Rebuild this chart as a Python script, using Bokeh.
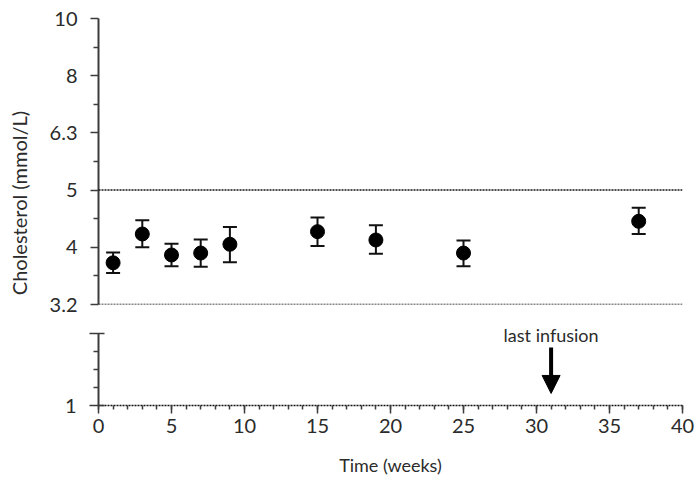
from bokeh.plotting import figure
from bokeh.models import (Range1d, FixedTicker, SingleIntervalTicker, Span, Whisker, TeeHead,
                          ColumnDataSource, Label, Arrow, NormalHead)
from bokeh.layouts import column, row
from bokeh.embed import file_html
from bokeh.resources import INLINE

# Serum cholesterol (mmol/L), mean with error bar limits, per week of follow-up
weeks = [1, 3, 5, 7, 9, 15, 19, 25, 37]
chol_mean = [3.74, 4.20, 3.86, 3.89, 4.03, 4.24, 4.10, 3.89, 4.42]
chol_lower = [3.59, 3.98, 3.69, 3.68, 3.75, 4.00, 3.88, 3.69, 4.20]
chol_upper = [3.90, 4.44, 4.04, 4.11, 4.32, 4.49, 4.35, 4.09, 4.67]

# log-spaced ticks of the upper (broken) y axis and their printed labels
upper_ticks = [10 ** 0.5, 10 ** 0.6, 10 ** 0.7, 10 ** 0.8, 10 ** 0.9, 10.0]
upper_tick_labels = ["3.2", "4", "5", "6.3", "8", "10"]
upper_minor = [10 ** 0.55, 10 ** 0.65, 10 ** 0.75, 10 ** 0.85, 10 ** 0.95]
reference_levels = [10 ** 0.7, 10 ** 0.5]   # dotted guide lines at 5 and 3.2 mmol/L

# short segment of the axis below the break
lower_ticks = [1.0, 1.4]
lower_tick_labels = ["1", ""]
lower_minor = [1.1, 1.2, 1.3]
lower_view = (1.0, 1.5)          # a little headroom above the segment for the annotation

x_start, x_end = 0, 40
last_infusion_week = 31
arrow_top, arrow_tip = 1.322, 1.067
arrow_label_y = 1.389

y_title = "Cholesterol  (mmol/L)"
x_title = "Time (weeks)"

FONT = "Lato"
AXIS_COLOR = "#3c3c3c"
TEXT_COLOR = "#2b2b2b"
MARK_COLOR = "#111111"
LABEL_STRIP = 36


def style_axis(ax, size="20px"):
    ax.axis_line_width = 2
    ax.axis_line_color = AXIS_COLOR
    ax.major_tick_line_color = AXIS_COLOR
    ax.minor_tick_line_color = AXIS_COLOR
    ax.major_tick_line_width = 1.5
    ax.minor_tick_line_width = 1.5
    ax.major_label_text_font = FONT
    ax.major_label_text_font_size = size
    ax.major_label_text_color = TEXT_COLOR


def bare(p):
    p.outline_line_color = None
    p.grid.visible = False
    p.background_fill_color = "white"
    p.border_fill_color = "white"


# ---- upper panel: data on a log scale ----
p1 = figure(width=695 - LABEL_STRIP, height=315,
            x_range=Range1d(x_start, x_end),
            y_range=Range1d(upper_ticks[0], upper_ticks[-1]),
            y_axis_type="log", x_axis_location=None,
            output_backend="svg", toolbar_location=None,
            min_border_left=98 - LABEL_STRIP, min_border_right=13,
            min_border_top=18, min_border_bottom=11)
bare(p1)

ya = p1.yaxis[0]
ya.ticker = FixedTicker(ticks=upper_ticks, minor_ticks=upper_minor)
ya.major_label_overrides = {t: lab for t, lab in zip(upper_ticks, upper_tick_labels)}
style_axis(ya)
ya.major_tick_out = 8
ya.major_tick_in = 0
ya.minor_tick_out = 5
ya.minor_tick_in = 0
ya.major_label_standoff = 13

for level in reference_levels:
    p1.add_layout(Span(location=level, dimension="width", line_color=MARK_COLOR,
                       line_width=1.5, line_dash="2 1"))

src = ColumnDataSource(dict(week=weeks, mean=chol_mean, lower=chol_lower, upper=chol_upper))
p1.add_layout(Whisker(base="week", lower="lower", upper="upper", source=src,
                      line_width=2, line_color=MARK_COLOR,
                      upper_head=TeeHead(size=14, line_width=2, line_color=MARK_COLOR),
                      lower_head=TeeHead(size=14, line_width=2, line_color=MARK_COLOR)))
p1.scatter("week", "mean", source=src, size=14, marker="circle",
           fill_color="#000000", line_color="#000000")

# ---- lower panel: axis segment below the break, time axis and dosing marker ----
p2 = figure(width=695 - LABEL_STRIP, height=163,
            x_range=p1.x_range, y_range=Range1d(*lower_view),
            output_backend="svg", toolbar_location=None,
            min_border_left=98 - LABEL_STRIP, min_border_right=13,
            min_border_top=0, min_border_bottom=73)
bare(p2)

yb = p2.yaxis[0]
yb.ticker = FixedTicker(ticks=lower_ticks, minor_ticks=lower_minor)
yb.major_label_overrides = {t: lab for t, lab in zip(lower_ticks, lower_tick_labels)}
yb.bounds = (lower_ticks[0], lower_ticks[-1])
style_axis(yb)
yb.major_tick_out = 9
yb.major_tick_in = 6
yb.minor_tick_out = 5
yb.minor_tick_in = 0
yb.major_label_standoff = 13

xa = p2.xaxis[0]
xa.ticker = SingleIntervalTicker(interval=5, num_minor_ticks=5)
style_axis(xa)
xa.axis_line_dash = "2 1"
xa.axis_line_width = 1.5
xa.axis_line_color = MARK_COLOR
xa.major_tick_out = 8
xa.major_tick_in = 0
xa.minor_tick_out = 4
xa.minor_tick_in = 0
xa.major_label_standoff = 5
xa.axis_label = x_title
xa.axis_label_text_font = FONT
xa.axis_label_text_font_size = "18px"
xa.axis_label_text_font_style = "normal"
xa.axis_label_text_color = TEXT_COLOR
xa.axis_label_standoff = 18

p2.add_layout(Arrow(x_start=last_infusion_week, y_start=arrow_top,
                    x_end=last_infusion_week, y_end=arrow_tip,
                    line_width=4, line_color="#000000",
                    end=NormalHead(size=18, fill_color="#000000", line_color="#000000")))
p2.add_layout(Label(x=last_infusion_week, y=arrow_label_y, text="last infusion",
                    text_align="center", text_baseline="middle",
                    text_font=FONT, text_font_size="18px", text_color=TEXT_COLOR))

# ---- narrow strip on the left carrying the shared y-axis title ----
strip = figure(width=LABEL_STRIP, height=478, x_range=Range1d(0, 1), y_range=Range1d(0, 478),
               x_axis_location=None, y_axis_location=None,
               output_backend="svg", toolbar_location=None, min_border=0)
bare(strip)
strip.add_layout(Label(x=0.5, y=478 - 200, text=y_title, angle=90, angle_units="deg",
                       text_align="center", text_baseline="middle",
                       text_font=FONT, text_font_size="20px", text_color=TEXT_COLOR))

layout = row(strip, column(p1, p2, spacing=0), spacing=0)
open("out.html", "w").write(file_html(layout, INLINE, "Cholesterol"))
